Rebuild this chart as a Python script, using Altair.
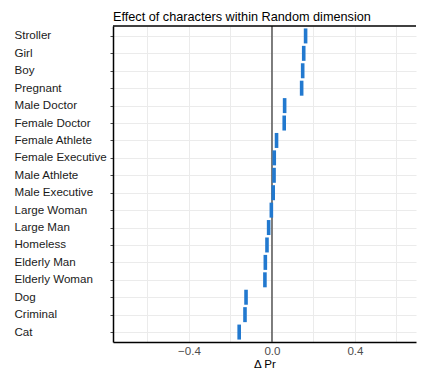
import altair as alt
import pandas as pd

characters = ["Stroller", "Girl", "Boy", "Pregnant", "Male Doctor", "Female Doctor",
              "Female Athlete", "Female Executive", "Male Athlete", "Male Executive",
              "Large Woman", "Large Man", "Homeless", "Elderly Man", "Elderly Woman",
              "Dog", "Criminal", "Cat"]
effects = [0.162, 0.153, 0.148, 0.143, 0.061, 0.059, 0.022, 0.011, 0.010, 0.006,
           -0.003, -0.016, -0.024, -0.032, -0.034, -0.125, -0.130, -0.158]
grid_values = [-0.6, -0.4, -0.2, 0.0, 0.2, 0.4, 0.6]
x_domain = [-0.766, 0.694]

W, H = 303, 316
df = pd.DataFrame({"character": characters, "effect": effects})
FONT = "Liberation Sans"

xscale = alt.Scale(domain=x_domain, nice=False, zero=False)
yscale = alt.Scale(type="point", padding=0.57)

ticks = alt.Chart(df).mark_tick(
    orient="vertical", size=15, thickness=3.6, color="#2279cf", opacity=1
).encode(
    x=alt.X("effect:Q", scale=xscale,
            axis=alt.Axis(values=grid_values, title="Δ Pr",
                          labelExpr="abs(datum.value*10) % 4 < 0.01 ? format(datum.value, '.1f') : ''",
                          ticks=False, labelPadding=3, labelColor="#4d4d4d",
                          labelFontSize=11.6, titleFontSize=11.6, titleFontWeight="normal",
                          titlePadding=2, gridColor="#ebebeb", gridWidth=1,
                          domain=True, domainColor="#000000", domainWidth=1.5)),
    y=alt.Y("character:N", sort=characters, scale=yscale,
            axis=alt.Axis(title=None, labelAlign="left", labelPadding=96,
                          tickSize=3, tickColor="#4d4d4d", labelColor="#1a1a1a",
                          labelFontSize=11.6, gridColor="#ebebeb", gridWidth=1,
                          domain=True, domainColor="#000000", domainWidth=1.5)),
)

zero = alt.Chart(pd.DataFrame({"v": [0.0]})).mark_rule(
    color="#4a4a4a", strokeWidth=1.4
).encode(x=alt.X("v:Q", scale=xscale))

top_border = alt.Chart(pd.DataFrame({"v": [0]})).mark_rule(
    color="#000000", strokeWidth=1.5
).encode(x=alt.value(0), x2=alt.value(W), y=alt.value(0))

chart = alt.layer(zero, ticks, top_border).properties(
    width=W, height=H,
    title=alt.TitleParams("Effect of characters within Random dimension",
                          anchor="start", frame="group", fontSize=12.7,
                          fontWeight="normal", font=FONT, color="#000000", offset=2),
    padding={"left": 6, "top": 2, "right": 0, "bottom": 0},
).configure_view(
    stroke=None
).configure_axis(
    labelFont=FONT, titleFont=FONT, grid=True
)

chart.save("out.html", embed_options={"renderer": "svg", "actions": False})
